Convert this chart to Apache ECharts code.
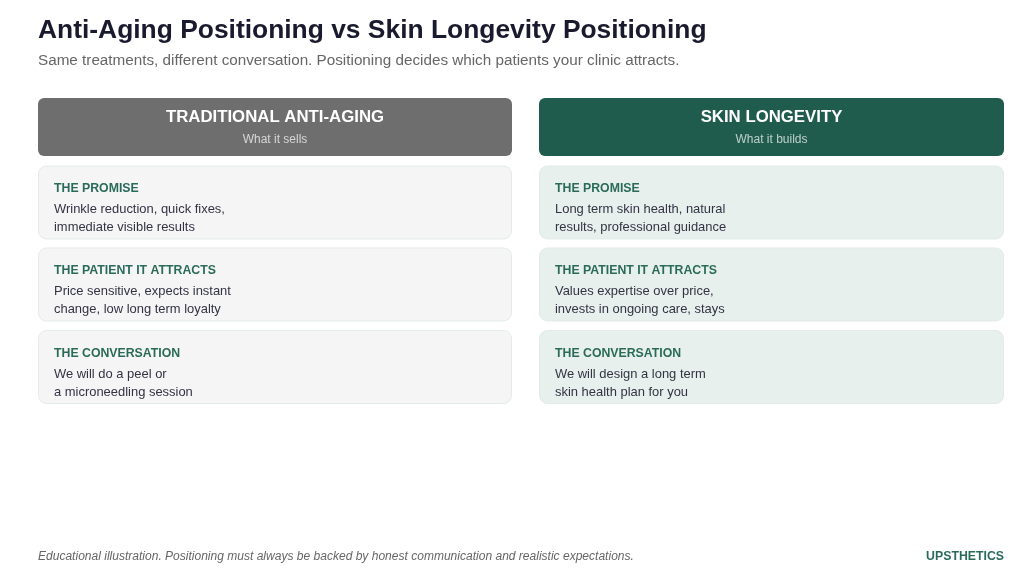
<!DOCTYPE html>
<html>
<head>
<meta charset="utf-8">
<style>
html, body { margin: 0; padding: 0; background: #fff; }
#main { width: 1024px; height: 570px; }
</style>
<script src="https://cdn.jsdelivr.net/npm/echarts@6/dist/echarts.min.js"></script>
</head>
<body>
<div id="main"></div>
<script>
var titleText = 'Anti-Aging Positioning vs Skin Longevity Positioning';
var subtitleText = 'Same treatments, different conversation. Positioning decides which patients your clinic attracts.';
var footnoteText = 'Educational illustration. Positioning must always be backed by honest communication and realistic expectations.';
var brandText = 'UPSTHETICS';

var columnTitles = ['TRADITIONAL ANTI-AGING', 'SKIN LONGEVITY'];
var columnSubtitles = ['What it sells', 'What it builds'];
var rowLabels = ['THE PROMISE', 'THE PATIENT IT ATTRACTS', 'THE CONVERSATION'];
var antiAgingLines = [
    'Wrinkle reduction, quick fixes,\nimmediate visible results',
    'Price sensitive, expects instant\nchange, low long term loyalty',
    'We will do a peel or\na microneedling session'
];
var longevityLines = [
    'Long term skin health, natural\nresults, professional guidance',
    'Values expertise over price,\ninvests in ongoing care, stays',
    'We will design a long term\nskin health plan for you'
];

var font = '"Liberation Sans", Arial, sans-serif';
var green = '#2a6b58';
var columns = [
    { x: 38, w: 474, head: '#6e6e6e', card: '#f5f5f5', body: antiAgingLines },
    { x: 539, w: 465, head: '#1f5c4d', card: '#e8f0ed', body: longevityLines }
];
var cardTops = [166, 248, 330.5];
var cardTextTops = [166, 248, 331];
var cardH = 73;

function text(x, y, str, size, color, extra) {
    var style = { x: x, y: y, text: str, fontSize: size, fill: color, fontFamily: font, textVerticalAlign: 'middle' };
    for (var k in extra) style[k] = extra[k];
    return { type: 'text', style: style };
}

var els = [];
els.push(text(38, 30.5, titleText, 26.4, '#1a1a2e', { fontWeight: 'bold' }));
els.push(text(38, 60.5, subtitleText, 15.25, '#666666'));

columns.forEach(function (col, c) {
    els.push({
        type: 'rect',
        shape: { x: col.x, y: 98, width: col.w, height: 58, r: 6 },
        style: { fill: col.head }
    });
    var mid = col.x + col.w / 2;
    els.push(text(mid, 117, columnTitles[c], 16.8, '#ffffff', { fontWeight: 'bold', textAlign: 'center' }));
    els.push(text(mid, 140, columnSubtitles[c], 12, 'rgba(255,255,255,0.7)', { textAlign: 'center' }));
    rowLabels.forEach(function (label, r) {
        var top = cardTops[r];
        var textTop = cardTextTops[r];
        els.push({
            type: 'rect',
            shape: { x: col.x + 0.5, y: top, width: col.w - 1, height: cardH, r: 8 },
            style: { fill: col.card, stroke: '#e3ebe8', lineWidth: 1 }
        });
        els.push(text(col.x + 16, textTop + 22.5, label, 12.3, green, { fontWeight: 'bold' }));
        var parts = col.body[r].split('\n');
        els.push(text(col.x + 16, textTop + 43, parts[0], 12.95, '#333344'));
        els.push(text(col.x + 16, textTop + 61, parts[1], 12.95, '#333344'));
    });
});

els.push(text(38, 556.5, footnoteText, 12.04, '#666666', { fontStyle: 'italic' }));
els.push(text(1004, 556.5, brandText, 12.3, green, { fontWeight: 'bold', textAlign: 'right' }));

var myChart = echarts.init(document.getElementById('main'));
myChart.setOption({
    animation: false,
    backgroundColor: '#ffffff',
    graphic: { elements: els }
});
</script>
</body>
</html>
